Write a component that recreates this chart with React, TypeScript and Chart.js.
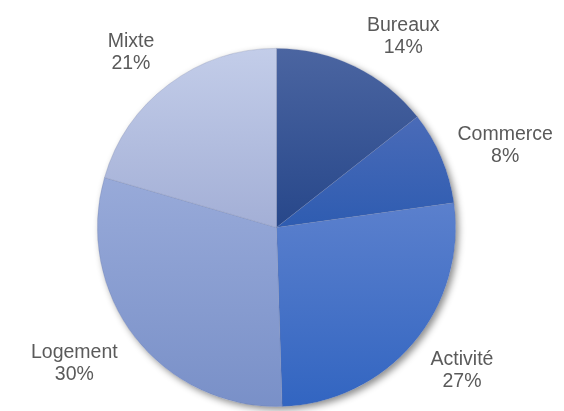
import React, { useEffect, useRef } from "react";
import { Chart, registerables } from "chart.js";

Chart.register(...registerables);

const categories = ["Bureaux", "Commerce", "Activité", "Logement", "Mixte"];
const shares = [14.4, 8.4, 26.7, 30.0, 20.5];
const topColors = ["#4b65a1", "#4a6bb8", "#5b80cd", "#98aad9", "#c3cde9"];
const bottomColors = ["#27478a", "#2e5cb1", "#3265c1", "#7990c8", "#a3afd6"];
const labelNudges: number[][] = [
  [31, 1],
  [27, -2],
  [18, -4],
  [-29, -4],
  [-14, -5],
];

const total = shares.reduce((a, b) => a + b, 0);
const percentLabels = shares.map((v) => Math.round((v / total) * 100) + "%");

const shadowPlugin = {
  id: "pieShadow",
  beforeDatasetsDraw(chart: any) {
    const meta = chart.getDatasetMeta(0);
    const arc = meta.data[0];
    if (!arc) return;
    const { x, y, outerRadius } = arc.getProps(["x", "y", "outerRadius"], true);
    const ctx = chart.ctx;
    ctx.save();
    ctx.beginPath();
    ctx.arc(x, y, outerRadius, 0, Math.PI * 2);
    ctx.fillStyle = "#ffffff";
    ctx.shadowColor = "rgba(0,0,0,0.45)";
    ctx.shadowBlur = 7;
    ctx.shadowOffsetX = 3;
    ctx.shadowOffsetY = 3;
    ctx.fill();
    ctx.restore();
  },
};

const labelPlugin = {
  id: "outerLabels",
  afterDatasetsDraw(chart: any) {
    const meta = chart.getDatasetMeta(0);
    const ctx = chart.ctx;
    ctx.save();
    ctx.font = "19.5px 'Liberation Sans', Arial, sans-serif";
    ctx.fillStyle = "#5a5a5a";
    ctx.textAlign = "center";
    ctx.textBaseline = "alphabetic";
    meta.data.forEach((arc: any, i: number) => {
      const { x, y, startAngle, endAngle, outerRadius } = arc.getProps(
        ["x", "y", "startAngle", "endAngle", "outerRadius"],
        true
      );
      const mid = (startAngle + endAngle) / 2;
      const d = outerRadius + 40;
      const ax = x + Math.cos(mid) * d + labelNudges[i][0];
      const ay = y + Math.sin(mid) * d + labelNudges[i][1];
      ctx.fillText(categories[i], ax, ay);
      ctx.fillText(percentLabels[i], ax, ay + 22);
    });
    ctx.restore();
  },
};

function sliceGradient(c: any) {
  const i = c.dataIndex;
  const chart = c.chart;
  const area = chart.chartArea;
  if (!area || i === undefined) return topColors[i ?? 0];
  const cx = (area.left + area.right) / 2;
  const cy = (area.top + area.bottom) / 2;
  const r = Math.min(area.width, area.height) / 2;
  let cum = 0;
  for (let j = 0; j < i; j++) cum += shares[j];
  const a0 = (cum / total) * Math.PI * 2;
  const a1 = ((cum + shares[i]) / total) * Math.PI * 2;
  const ys = [cy, cy - r * Math.cos(a0), cy - r * Math.cos(a1)];
  if (a0 < Math.PI && a1 > Math.PI) ys.push(cy + r);
  if (a1 > Math.PI * 2 - 1e-6 || a0 < 1e-6) ys.push(cy - r);
  const y0 = Math.min(...ys);
  const y1 = Math.max(...ys);
  const g = chart.ctx.createLinearGradient(0, y0, 0, y1);
  g.addColorStop(0, topColors[i]);
  g.addColorStop(1, bottomColors[i]);
  return g;
}

export default function App() {
  const canvasRef = useRef<HTMLCanvasElement | null>(null);

  useEffect(() => {
    const canvas = canvasRef.current;
    if (!canvas) return;
    const chart = new Chart(canvas, {
      type: "pie",
      data: {
        labels: categories,
        datasets: [
          {
            data: shares,
            backgroundColor: sliceGradient as any,
            borderColor: "rgba(110,120,160,0.35)",
            borderWidth: 0.75,
          },
        ],
      },
      options: {
        animation: false,
        responsive: false,
        devicePixelRatio: 1,
        layout: { padding: { top: 48, bottom: 4, left: 97, right: 108 } },
        plugins: {
          legend: { display: false },
          tooltip: { enabled: false },
        },
      },
      plugins: [shadowPlugin, labelPlugin],
    });
    return () => chart.destroy();
  }, []);

  return (
    <div style={{ position: "absolute", left: 0, top: 0, width: 564, height: 411, background: "#ffffff" }}>
      <canvas ref={canvasRef} width={564} height={411} style={{ display: "block" }} />
    </div>
  );
}
